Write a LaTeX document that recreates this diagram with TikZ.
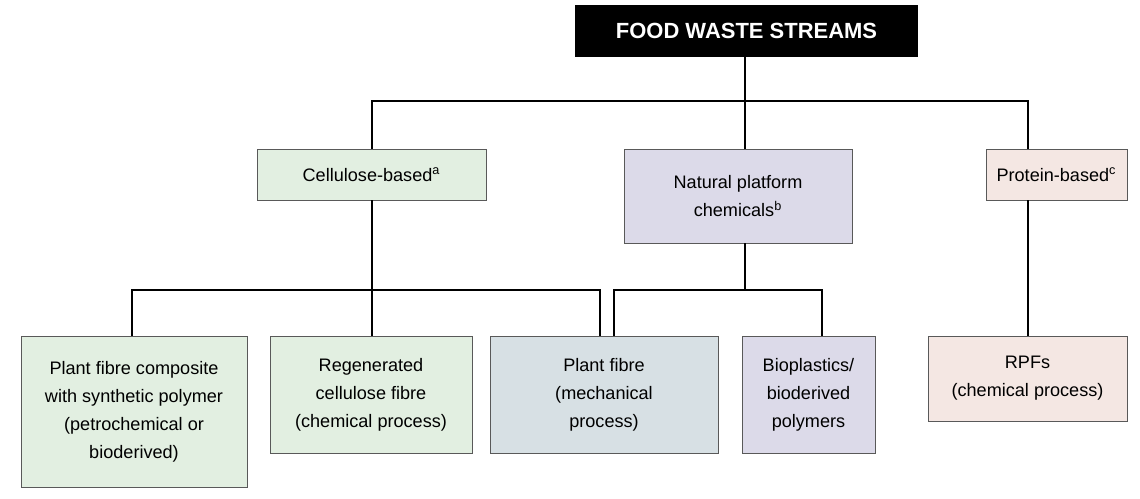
\documentclass[tikz,border=0pt]{standalone}
\usepackage{fontspec}
\setmainfont{Liberation Sans}
\definecolor{cg}{HTML}{E2EFE1}
\definecolor{cl}{HTML}{DCDAE9}
\definecolor{cp}{HTML}{F4E7E3}
\definecolor{cb}{HTML}{D7E0E4}
\begin{document}
\begin{tikzpicture}[x=0.02cm,y=-0.02cm,
 bx/.style={draw=gray!70!black,line width=0.5pt,align=center,font=\fontsize{10.3}{16}\selectfont,inner sep=0pt},
 ln/.style={line width=1.1pt}]
\useasboundingbox (0,0) rectangle (1140,498);
\node[fill=black,text=white,font=\bfseries\fontsize{12.5}{15}\selectfont,minimum width=343*0.02cm,minimum height=52*0.02cm,inner sep=0pt] (top) at (746.5,31) {FOOD WASTE STREAMS};
\node[bx,fill=cg,minimum width=229*0.02cm,minimum height=51*0.02cm] (cel) at (371.5,174.5) {Cellulose-based\textsuperscript{a}};
\node[bx,fill=cl,minimum width=228*0.02cm,minimum height=94*0.02cm] (nat) at (738,196) {Natural platform\\chemicals\textsuperscript{b}};
\node[bx,fill=cp,minimum width=141*0.02cm,minimum height=51*0.02cm] (pro) at (1056.5,174.5) {Protein-based\textsuperscript{c}};
\node[bx,fill=cg,minimum width=226*0.02cm,minimum height=151*0.02cm] (b1) at (134,411.5) {Plant fibre composite\\with synthetic polymer\\(petrochemical or\\bioderived)};
\node[bx,fill=cg,minimum width=202*0.02cm,minimum height=117*0.02cm] (b2) at (371,394.5) {Regenerated\\cellulose fibre\\(chemical process)};
\node[bx,fill=cb,minimum width=228*0.02cm,minimum height=117*0.02cm] (b3) at (604,394.5) {Plant fibre\\(mechanical\\process)};
\node[bx,fill=cl,minimum width=133*0.02cm,minimum height=117*0.02cm] (b4) at (808.5,394.5) {Bioplastics/\\bioderived\\polymers};
\node[bx,fill=cp,minimum width=199*0.02cm,minimum height=85*0.02cm] (b5) at (1027.5,378.5) {RPFs\\(chemical process)};
\coordinate (h1) at (745,101);
\draw[ln] (top.south -| h1) -- (h1);
\draw[ln] (cel.north -| 372,0) -- (372,101) -- (1028,101) -- (pro.north -| 1028,0);
\draw[ln] (h1) -- (nat.north -| h1);
\draw[ln] (cel.south -| 372,0) -- (372,290);
\draw[ln] (b1.north -| 132,0) -- (132,290) -- (600,290) -- (b3.north -| 600,0);
\draw[ln] (372,290) -- (b2.north -| 372,0);
\draw[ln] (nat.south -| 745,0) -- (745,290);
\draw[ln] (b3.north -| 614,0) -- (614,290) -- (822,290) -- (b4.north -| 822,0);
\draw[ln] (pro.south -| 1028,0) -- (b5.north -| 1028,0);
\end{tikzpicture}
\end{document}
